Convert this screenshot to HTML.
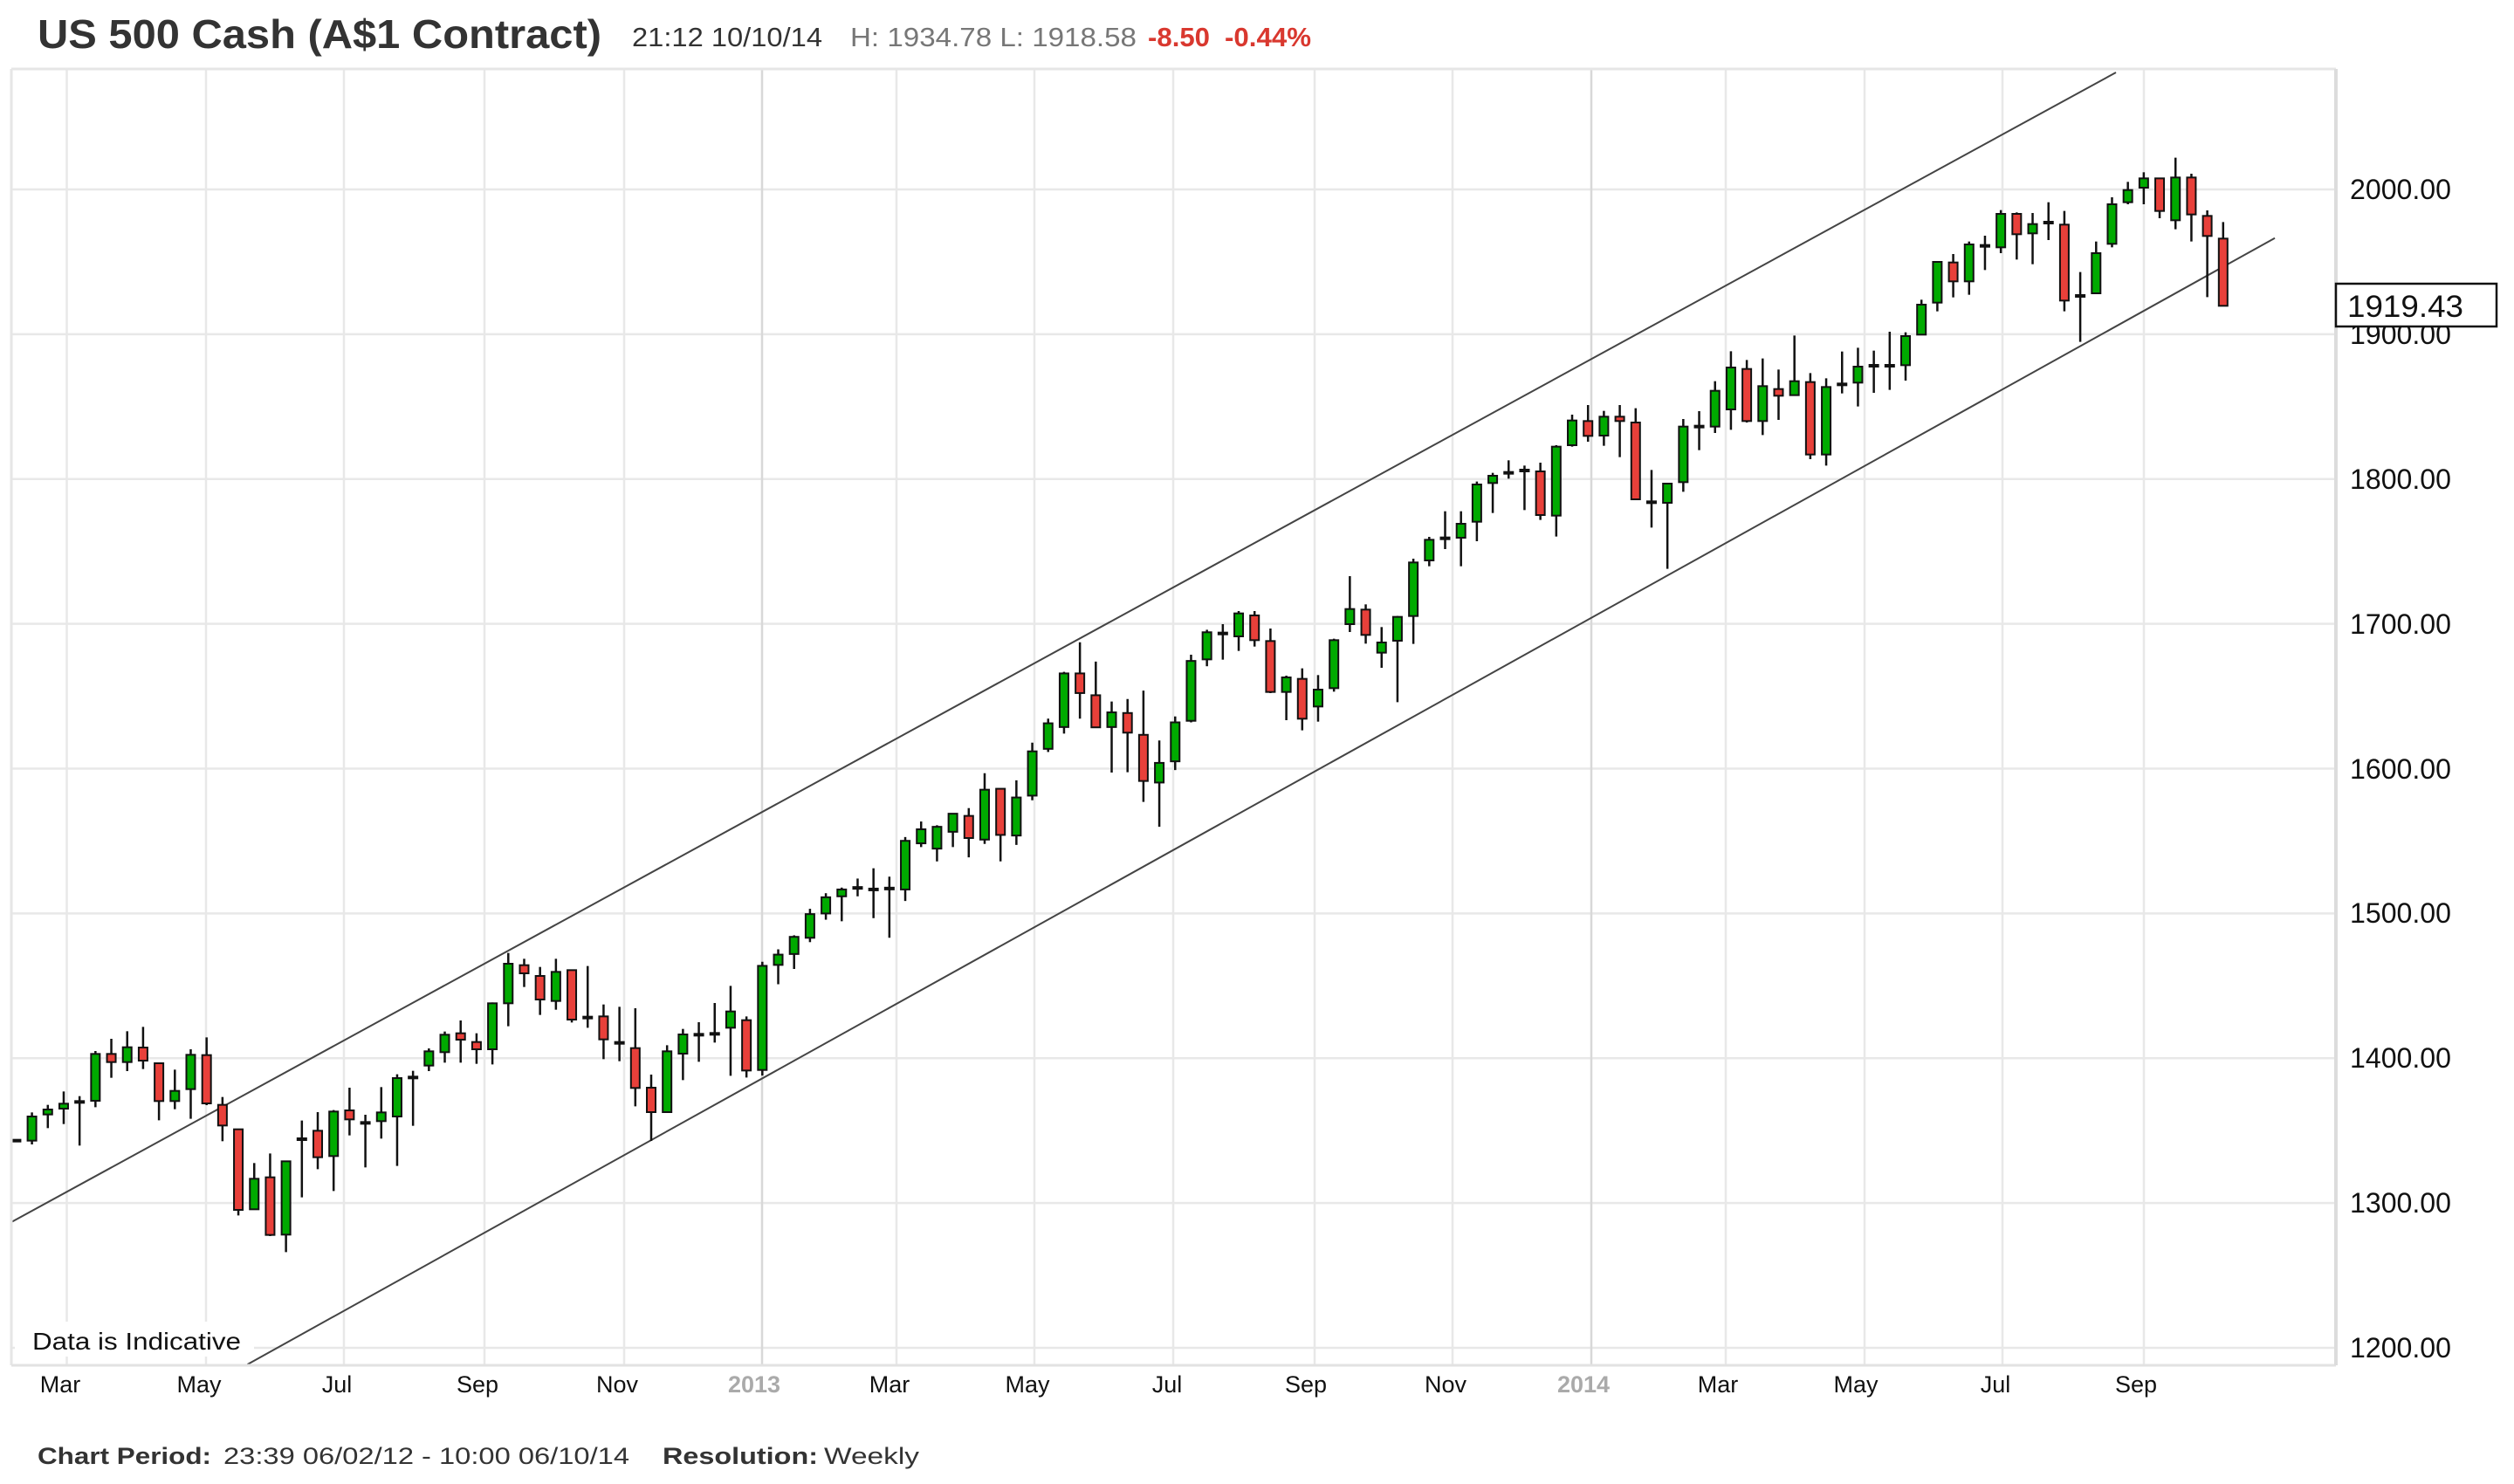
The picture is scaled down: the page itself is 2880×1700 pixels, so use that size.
<!DOCTYPE html>
<html><head><meta charset="utf-8"><style>
html,body{margin:0;padding:0;background:#fff;}
svg{display:block;font-family:"Liberation Sans",Arial,sans-serif;}
</style></head><body>
<svg id="s" width="2880" height="1700" viewBox="0 0 2880 1700" xmlns="http://www.w3.org/2000/svg">
<rect width="2880" height="1700" fill="#fff"/>
<g id="grid"></g>
<g id="chan" stroke="#444" stroke-width="2" fill="none">
<line x1="13" y1="1400" x2="2424" y2="83"/>
<line x1="283.5" y1="1563" x2="2606" y2="272.7"/>
</g>
<g id="candles"></g>
<rect x="17" y="1514" width="274" height="40" fill="#fff"/>
<text x="37" y="1546" font-size="28" fill="#111" textLength="239" lengthAdjust="spacingAndGlyphs">Data is Indicative</text>
<!-- frame -->
<line x1="13" y1="79" x2="2676" y2="79" stroke="#e6e6e6" stroke-width="3"/>
<line x1="13" y1="79" x2="13" y2="1564" stroke="#e6e6e6" stroke-width="3"/>
<line x1="13" y1="1564" x2="2676" y2="1564" stroke="#e2e2e2" stroke-width="3"/>
<line x1="2676" y1="79" x2="2676" y2="1564" stroke="#dcdcdc" stroke-width="4"/>
<!-- y labels -->
<g font-size="32" fill="#111">
<text x="2692" y="228" textLength="116" lengthAdjust="spacingAndGlyphs">2000.00</text>
<text x="2692" y="394" textLength="116" lengthAdjust="spacingAndGlyphs">1900.00</text>
<text x="2692" y="560" textLength="116" lengthAdjust="spacingAndGlyphs">1800.00</text>
<text x="2692" y="726" textLength="116" lengthAdjust="spacingAndGlyphs">1700.00</text>
<text x="2692" y="892" textLength="116" lengthAdjust="spacingAndGlyphs">1600.00</text>
<text x="2692" y="1057" textLength="116" lengthAdjust="spacingAndGlyphs">1500.00</text>
<text x="2692" y="1223" textLength="116" lengthAdjust="spacingAndGlyphs">1400.00</text>
<text x="2692" y="1389" textLength="116" lengthAdjust="spacingAndGlyphs">1300.00</text>
<text x="2692" y="1555" textLength="116" lengthAdjust="spacingAndGlyphs">1200.00</text>
</g>
<rect x="2676" y="325" width="184" height="49" fill="#fff" stroke="#111" stroke-width="2.5"/>
<text x="2689" y="363" font-size="35" fill="#111" textLength="133" lengthAdjust="spacingAndGlyphs">1919.43</text>
<!-- x labels -->
<g font-size="27" fill="#111" text-anchor="middle">
<text x="69" y="1595">Mar</text>
<text x="228" y="1595">May</text>
<text x="386" y="1595">Jul</text>
<text x="547" y="1595">Sep</text>
<text x="707" y="1595">Nov</text>
<text x="864" y="1595" fill="#aaa" font-weight="bold">2013</text>
<text x="1019" y="1595">Mar</text>
<text x="1177" y="1595">May</text>
<text x="1337" y="1595">Jul</text>
<text x="1496" y="1595">Sep</text>
<text x="1656" y="1595">Nov</text>
<text x="1814" y="1595" fill="#aaa" font-weight="bold">2014</text>
<text x="1968" y="1595">Mar</text>
<text x="2126" y="1595">May</text>
<text x="2286" y="1595">Jul</text>
<text x="2447" y="1595">Sep</text>
</g>
<!-- header -->
<text x="43" y="55" font-size="46" font-weight="bold" fill="#333" textLength="646" lengthAdjust="spacingAndGlyphs">US 500 Cash (A$1 Contract)</text>
<text x="724" y="53" font-size="31" fill="#333" textLength="218" lengthAdjust="spacingAndGlyphs">21:12 10/10/14</text>
<text x="974" y="53" font-size="31" fill="#777" textLength="328" lengthAdjust="spacingAndGlyphs">H: 1934.78 L: 1918.58</text>
<text x="1315" y="53" font-size="31" font-weight="bold" fill="#d9382f" textLength="71" lengthAdjust="spacingAndGlyphs">-8.50</text>
<text x="1403" y="53" font-size="31" font-weight="bold" fill="#d9382f" textLength="99" lengthAdjust="spacingAndGlyphs">-0.44%</text>
<!-- footer -->
<text x="43" y="1677" font-size="27" font-weight="bold" fill="#333" textLength="199" lengthAdjust="spacingAndGlyphs">Chart Period:</text>
<text x="256" y="1677" font-size="27" fill="#333" textLength="465" lengthAdjust="spacingAndGlyphs">23:39 06/02/12 - 10:00 06/10/14</text>
<text x="759" y="1677" font-size="27" font-weight="bold" fill="#333" textLength="178" lengthAdjust="spacingAndGlyphs">Resolution:</text>
<text x="944" y="1677" font-size="27" fill="#333" textLength="109" lengthAdjust="spacingAndGlyphs">Weekly</text>
</svg>
<script>
(function(){
var NS="http://www.w3.org/2000/svg";
function el(p,t,a){var e=document.createElementNS(NS,t);for(var k in a)e.setAttribute(k,a[k]);p.appendChild(e);return e;}
var grid=document.getElementById("grid");
for(var p=1200;p<=2000;p+=100){var y=217+(2000-p)*1.6588;el(grid,"line",{x1:13,y1:y,x2:2676,y2:y,stroke:"#e8e8e8","stroke-width":2.5});}
var vx=[76.5,236,394,555,715,873,1027,1185,1344,1506,1664,1823,1977,2136,2294,2456];
vx.forEach(function(x,i){el(grid,"line",{x1:x,y1:79,x2:x,y2:1564,stroke:(i==5||i==11)?"#d8d8d8":"#e8e8e8","stroke-width":2.5});});
var secs=[
 {f:function(z){return 1100+z/3;},d:[
 [0,'d',620,620,616,624],[1,'g',537,620,523,633],[2,'g',513,530,497,577],[3,'g',493,510,451,563],[4,'d',487,487,467,637],
 [5,'g',322,483,312,505],[6,'r',322,350,270,404],[7,'g',299,350,244,381],[8,'r',300,345,229,374],[9,'r',354,484,354,550],
 [10,'g',449,484,376,512],[11,'g',325,443,306,545],[12,'r',326,492,265,498],[13,'r',497,568,470,622],[14,'r',581,858,581,877],
 [15,'g',751,856,697,856],[16,'r',746,944,664,948],[17,'g',691,943,691,1003],[18,'d',615,615,551,815],[19,'r',586,677,522,718],
 [20,'g',520,673,515,793],[21,'r',516,547,438,602],[22,'d',559,559,531,712],[23,'g',523,553,436,613],[24,'g',405,537,392,707],
 [25,'d',403,403,380,569],[26,'g',313,362,303,381],[27,'g',256,316,245,352],[28,'r',251,273,207,352],[29,'r',281,306,251,356],
 [30,'g',148,306,145,358],[31,'g',12,148,-25,227],[32,'r',17,45,-5,92],[33,'r',54,135,23,188],[34,'g',40,140,-5,170],
 [35,'r',34,204,34,214],[36,'d',197,197,20,232],[37,'r',193,272,152,340],[38,'d',284,284,160,347],[39,'r',302,439,165,502],
 [40,'r',438,522,393,621],[41,'g',313,522,292,522],[42,'g',255,321,236,412],[43,'d',256,256,213,349],[44,'d',253,253,147,283],
 [45,'g',176,232,88,397],[46,'r',206,379,193,403]]},
 {f:function(z){return 700+z/2.8;},d:[
 [47,'g',1138,1472,1125,1490],[48,'g',1102,1135,1085,1197],[49,'g',1045,1100,1040,1148],[50,'g',972,1048,955,1062],[51,'g',918,970,905,990],
 [52,'g',893,915,887,995],[53,'d',888,888,858,915],[54,'d',893,893,825,985],[55,'d',890,890,852,1048],[56,'g',737,893,725,930],
 [57,'g',700,745,675,757],[58,'g',692,762,687,803],[59,'g',650,708,650,757],[60,'r',657,728,632,790],[61,'g',573,733,520,747],
 [62,'r',570,718,570,803],[63,'g',598,720,543,750],[64,'g',450,592,422,607],[65,'g',360,442,345,452],[66,'g',200,372,195,393],
 [67,'r',200,263,100,345],[68,'r',270,373,162,375],[69,'g',325,372,290,518],[70,'r',327,390,282,517],[71,'r',397,545,255,612],
 [72,'g',487,550,415,692],[73,'g',357,482,338,510],[74,'g',160,352,140,357],[75,'g',68,155,60,177]]},
 {f:function(z){return 420+z/3;},d:[
 [76,'d',917,917,885,1007],[77,'g',848,927,840,977],[78,'r',855,940,840,962],[79,'r',943,1118,900,1122],[80,'g',1068,1118,1062,1215],
 [81,'r',1073,1210,1037,1250],[82,'g',1110,1168,1060,1220],[83,'g',940,1105,935,1117],[84,'g',833,885,720,912],[85,'r',835,922,817,952],
 [86,'g',948,983,895,1035],[87,'g',860,942,857,1153],[88,'g',673,857,660,953],[89,'g',595,666,585,686],[90,'d',590,590,497,627],
 [91,'g',540,588,497,686],[92,'g',405,533,395,600],[93,'g',375,400,365,503],[94,'d',365,365,322,385],[95,'d',357,357,340,493],
 [96,'r',360,510,330,527],[97,'g',275,512,270,584],[98,'g',185,270,165,275],[99,'r',187,238,132,258],[100,'g',172,237,152,272],
 [101,'r',172,187,132,311],[102,'r',192,456,143,456],[103,'d',466,466,355,553]]},
 {f:function(z){return 220+z/3;},d:[
 [104,'g',1002,1068,1000,1295],[105,'g',806,997,780,1030],[106,'d',806,806,753,887],[107,'g',683,806,650,828],[108,'g',603,747,547,817],
 [109,'r',608,787,577,792],[110,'g',667,787,572,835],[111,'r',677,700,610,783],[112,'g',650,698,493,698],[113,'r',653,902,622,918],
 [114,'g',670,902,640,940],[115,'d',661,661,548,692],[116,'g',600,655,535,737],[117,'d',597,597,545,690],[118,'d',597,597,480,680],
 [119,'g',495,595,482,648],[120,'g',387,490,370,490],[121,'g',240,380,240,410],[122,'r',242,307,213,362],[123,'g',180,307,170,353],
 [124,'d',185,185,150,268],[125,'g',75,190,62,210],[126,'r',75,145,70,232],[127,'g',110,142,72,248],[128,'d',105,105,35,165],
 [129,'r',112,373,65,410],[130,'d',357,357,275,515],[131,'g',210,348,170,348],[132,'g',42,178,18,190]]},
 {f:function(z){return 160+z/3;},d:[
 [133,'g',173,215,145,222],[134,'g',133,165,112,222],[135,'r',133,245,133,270],[136,'g',130,277,62,308],[137,'r',130,257,117,350],
 [138,'r',262,331,243,541],[139,'r',340,571,283,571]]}
];
var cg=document.getElementById("candles");
secs.forEach(function(s){s.d.forEach(function(c){
 var x=18.4+18.19*c[0],bt=s.f(c[2]),bb=s.f(c[3]),wt=s.f(c[4]),wb=s.f(c[5]);
 el(cg,"line",{x1:x,y1:wt,x2:x,y2:wb,stroke:"#111","stroke-width":2.5});
 if(c[1]=='d'){el(cg,"rect",{x:x-6,y:bt-2,width:12,height:4,fill:"#111"});}
 else{var h=Math.max(bb-bt,3);el(cg,"rect",{x:x-5,y:bt,width:10,height:h,fill:c[1]=='g'?"#00aa00":"#e8403a",stroke:"#111","stroke-width":2});}
});});
})();
</script>
</body></html>
